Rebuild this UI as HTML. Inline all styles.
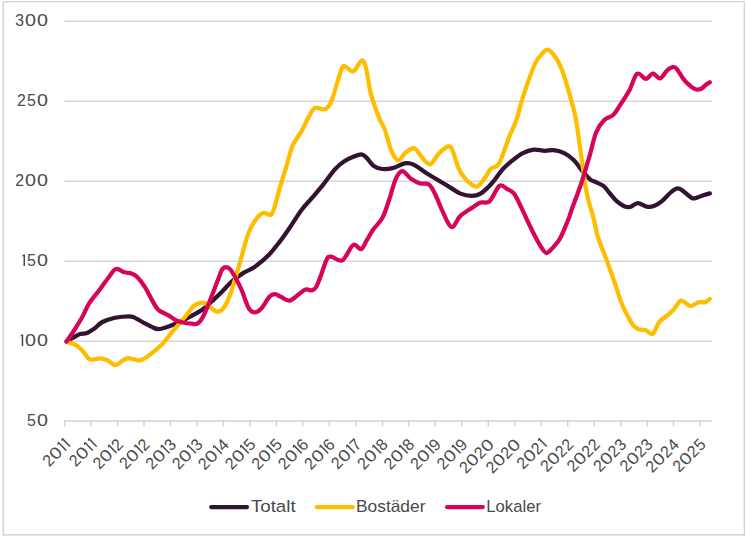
<!DOCTYPE html>
<html><head><meta charset="utf-8"><style>
html,body{margin:0;padding:0;background:#fff;}
body{width:746px;height:538px;position:relative;overflow:hidden;}
svg{position:absolute;left:0;top:0;}
.t{font-family:"Liberation Sans",sans-serif;font-size:16.5px;fill:#4a4a4a;}
</style></head><body>
<svg width="746" height="538" viewBox="0 0 746 538">
<rect x="2" y="1" width="1" height="535" fill="#e8e8e8"/>
<rect x="3" y="1" width="742" height="1" fill="#d4d4d4"/>
<rect x="3" y="2" width="741" height="1" fill="#f0f0f0"/>
<rect x="3" y="1" width="1" height="534" fill="#d4d4d4"/>
<rect x="744" y="1" width="1" height="534" fill="#d4d4d4"/>
<rect x="743" y="2" width="1" height="532" fill="#f2f2f2"/>
<rect x="3" y="534" width="742" height="1" fill="#d4d4d4"/>
<rect x="3" y="535" width="742" height="1" fill="#e4e4e4"/>
<line x1="64.6" y1="21.3" x2="711.8" y2="21.3" stroke="#d6d6d6" stroke-width="1.6"/>
<line x1="64.6" y1="101.3" x2="711.8" y2="101.3" stroke="#d6d6d6" stroke-width="1.6"/>
<line x1="64.6" y1="181.3" x2="711.8" y2="181.3" stroke="#d6d6d6" stroke-width="1.6"/>
<line x1="64.6" y1="261.3" x2="711.8" y2="261.3" stroke="#d6d6d6" stroke-width="1.6"/>
<line x1="64.6" y1="341.3" x2="711.8" y2="341.3" stroke="#d6d6d6" stroke-width="1.6"/>
<line x1="63.9" y1="421.0" x2="711.9" y2="421.0" stroke="#d0d0d0" stroke-width="1.7"/>
<line x1="64.6" y1="421" x2="64.6" y2="426.2" stroke="#d0d0d0" stroke-width="1.4"/>
<line x1="91.1" y1="421" x2="91.1" y2="426.2" stroke="#d0d0d0" stroke-width="1.4"/>
<line x1="117.6" y1="421" x2="117.6" y2="426.2" stroke="#d0d0d0" stroke-width="1.4"/>
<line x1="144.0" y1="421" x2="144.0" y2="426.2" stroke="#d0d0d0" stroke-width="1.4"/>
<line x1="170.5" y1="421" x2="170.5" y2="426.2" stroke="#d0d0d0" stroke-width="1.4"/>
<line x1="197.0" y1="421" x2="197.0" y2="426.2" stroke="#d0d0d0" stroke-width="1.4"/>
<line x1="223.5" y1="421" x2="223.5" y2="426.2" stroke="#d0d0d0" stroke-width="1.4"/>
<line x1="250.0" y1="421" x2="250.0" y2="426.2" stroke="#d0d0d0" stroke-width="1.4"/>
<line x1="276.4" y1="421" x2="276.4" y2="426.2" stroke="#d0d0d0" stroke-width="1.4"/>
<line x1="302.9" y1="421" x2="302.9" y2="426.2" stroke="#d0d0d0" stroke-width="1.4"/>
<line x1="329.4" y1="421" x2="329.4" y2="426.2" stroke="#d0d0d0" stroke-width="1.4"/>
<line x1="355.9" y1="421" x2="355.9" y2="426.2" stroke="#d0d0d0" stroke-width="1.4"/>
<line x1="382.4" y1="421" x2="382.4" y2="426.2" stroke="#d0d0d0" stroke-width="1.4"/>
<line x1="408.8" y1="421" x2="408.8" y2="426.2" stroke="#d0d0d0" stroke-width="1.4"/>
<line x1="435.3" y1="421" x2="435.3" y2="426.2" stroke="#d0d0d0" stroke-width="1.4"/>
<line x1="461.8" y1="421" x2="461.8" y2="426.2" stroke="#d0d0d0" stroke-width="1.4"/>
<line x1="488.3" y1="421" x2="488.3" y2="426.2" stroke="#d0d0d0" stroke-width="1.4"/>
<line x1="514.8" y1="421" x2="514.8" y2="426.2" stroke="#d0d0d0" stroke-width="1.4"/>
<line x1="541.2" y1="421" x2="541.2" y2="426.2" stroke="#d0d0d0" stroke-width="1.4"/>
<line x1="567.7" y1="421" x2="567.7" y2="426.2" stroke="#d0d0d0" stroke-width="1.4"/>
<line x1="594.2" y1="421" x2="594.2" y2="426.2" stroke="#d0d0d0" stroke-width="1.4"/>
<line x1="620.7" y1="421" x2="620.7" y2="426.2" stroke="#d0d0d0" stroke-width="1.4"/>
<line x1="647.2" y1="421" x2="647.2" y2="426.2" stroke="#d0d0d0" stroke-width="1.4"/>
<line x1="673.6" y1="421" x2="673.6" y2="426.2" stroke="#d0d0d0" stroke-width="1.4"/>
<line x1="700.1" y1="421" x2="700.1" y2="426.2" stroke="#d0d0d0" stroke-width="1.4"/>
<text class="t" transform="translate(37.03,26.10) scale(1.192,1)">0</text><text class="t" transform="translate(25.03,26.10) scale(1.192,1)">0</text><text class="t" transform="translate(15.21,26.10) scale(0.946,1)">3</text>
<text class="t" transform="translate(37.03,106.10) scale(1.192,1)">0</text><text class="t" transform="translate(26.96,106.10) scale(0.971,1)">5</text><text class="t" transform="translate(17.01,106.10) scale(0.958,1)">2</text>
<text class="t" transform="translate(37.03,186.10) scale(1.192,1)">0</text><text class="t" transform="translate(25.03,186.10) scale(1.192,1)">0</text><text class="t" transform="translate(15.21,186.10) scale(0.958,1)">2</text>
<text class="t" transform="translate(37.03,266.10) scale(1.192,1)">0</text><text class="t" transform="translate(26.96,266.10) scale(0.971,1)">5</text><path d="M24.25,266.10V254.55" fill="none" stroke="#4a4a4a" stroke-width="1.5"/><path d="M24.25,254.85L22.25,256.15" fill="none" stroke="#4a4a4a" stroke-width="1.1"/>
<text class="t" transform="translate(37.03,346.10) scale(1.192,1)">0</text><text class="t" transform="translate(25.03,346.10) scale(1.192,1)">0</text><path d="M22.45,346.10V334.55" fill="none" stroke="#4a4a4a" stroke-width="1.5"/><path d="M22.45,334.85L20.45,336.15" fill="none" stroke="#4a4a4a" stroke-width="1.1"/>
<text class="t" transform="translate(37.03,426.10) scale(1.192,1)">0</text><text class="t" transform="translate(26.96,426.10) scale(0.971,1)">5</text>
<g transform="translate(70.70,446.0) rotate(-45)"><path d="M-0.75,0.00V-11.55" fill="none" stroke="#4a4a4a" stroke-width="1.5"/><path d="M-0.75,-11.25L-2.75,-9.95" fill="none" stroke="#4a4a4a" stroke-width="1.1"/><path d="M-6.25,0.00V-11.55" fill="none" stroke="#4a4a4a" stroke-width="1.5"/><path d="M-6.25,-11.25L-8.25,-9.95" fill="none" stroke="#4a4a4a" stroke-width="1.1"/><text class="t" transform="translate(-21.17,0.00) scale(1.192,1)">0</text><text class="t" transform="translate(-30.39,0.00) scale(0.958,1)">2</text></g>
<g transform="translate(97.18,446.0) rotate(-45)"><path d="M-0.75,0.00V-11.55" fill="none" stroke="#4a4a4a" stroke-width="1.5"/><path d="M-0.75,-11.25L-2.75,-9.95" fill="none" stroke="#4a4a4a" stroke-width="1.1"/><path d="M-6.25,0.00V-11.55" fill="none" stroke="#4a4a4a" stroke-width="1.5"/><path d="M-6.25,-11.25L-8.25,-9.95" fill="none" stroke="#4a4a4a" stroke-width="1.1"/><text class="t" transform="translate(-21.17,0.00) scale(1.192,1)">0</text><text class="t" transform="translate(-30.39,0.00) scale(0.958,1)">2</text></g>
<g transform="translate(123.66,446.0) rotate(-45)"><text class="t" transform="translate(-7.99,0.00) scale(0.958,1)">2</text><path d="M-9.95,0.00V-11.55" fill="none" stroke="#4a4a4a" stroke-width="1.5"/><path d="M-9.95,-11.25L-11.95,-9.95" fill="none" stroke="#4a4a4a" stroke-width="1.1"/><text class="t" transform="translate(-24.87,0.00) scale(1.192,1)">0</text><text class="t" transform="translate(-34.09,0.00) scale(0.958,1)">2</text></g>
<g transform="translate(150.14,446.0) rotate(-45)"><text class="t" transform="translate(-7.99,0.00) scale(0.958,1)">2</text><path d="M-9.95,0.00V-11.55" fill="none" stroke="#4a4a4a" stroke-width="1.5"/><path d="M-9.95,-11.25L-11.95,-9.95" fill="none" stroke="#4a4a4a" stroke-width="1.1"/><text class="t" transform="translate(-24.87,0.00) scale(1.192,1)">0</text><text class="t" transform="translate(-34.09,0.00) scale(0.958,1)">2</text></g>
<g transform="translate(176.62,446.0) rotate(-45)"><text class="t" transform="translate(-7.99,0.00) scale(0.946,1)">3</text><path d="M-10.15,0.00V-11.55" fill="none" stroke="#4a4a4a" stroke-width="1.5"/><path d="M-10.15,-11.25L-12.15,-9.95" fill="none" stroke="#4a4a4a" stroke-width="1.1"/><text class="t" transform="translate(-25.07,0.00) scale(1.192,1)">0</text><text class="t" transform="translate(-34.29,0.00) scale(0.958,1)">2</text></g>
<g transform="translate(203.10,446.0) rotate(-45)"><text class="t" transform="translate(-7.99,0.00) scale(0.946,1)">3</text><path d="M-10.15,0.00V-11.55" fill="none" stroke="#4a4a4a" stroke-width="1.5"/><path d="M-10.15,-11.25L-12.15,-9.95" fill="none" stroke="#4a4a4a" stroke-width="1.1"/><text class="t" transform="translate(-25.07,0.00) scale(1.192,1)">0</text><text class="t" transform="translate(-34.29,0.00) scale(0.958,1)">2</text></g>
<g transform="translate(229.58,446.0) rotate(-45)"><text class="t" transform="translate(-8.57,0.00) scale(0.986,1)">4</text><path d="M-10.95,0.00V-11.55" fill="none" stroke="#4a4a4a" stroke-width="1.5"/><path d="M-10.95,-11.25L-12.95,-9.95" fill="none" stroke="#4a4a4a" stroke-width="1.1"/><text class="t" transform="translate(-25.87,0.00) scale(1.192,1)">0</text><text class="t" transform="translate(-35.09,0.00) scale(0.958,1)">2</text></g>
<g transform="translate(256.06,446.0) rotate(-45)"><text class="t" transform="translate(-8.24,0.00) scale(0.971,1)">5</text><path d="M-10.35,0.00V-11.55" fill="none" stroke="#4a4a4a" stroke-width="1.5"/><path d="M-10.35,-11.25L-12.35,-9.95" fill="none" stroke="#4a4a4a" stroke-width="1.1"/><text class="t" transform="translate(-25.27,0.00) scale(1.192,1)">0</text><text class="t" transform="translate(-34.49,0.00) scale(0.958,1)">2</text></g>
<g transform="translate(282.54,446.0) rotate(-45)"><text class="t" transform="translate(-8.24,0.00) scale(0.971,1)">5</text><path d="M-10.35,0.00V-11.55" fill="none" stroke="#4a4a4a" stroke-width="1.5"/><path d="M-10.35,-11.25L-12.35,-9.95" fill="none" stroke="#4a4a4a" stroke-width="1.1"/><text class="t" transform="translate(-25.27,0.00) scale(1.192,1)">0</text><text class="t" transform="translate(-34.49,0.00) scale(0.958,1)">2</text></g>
<g transform="translate(309.02,446.0) rotate(-45)"><text class="t" transform="translate(-8.44,0.00) scale(0.998,1)">6</text><path d="M-10.35,0.00V-11.55" fill="none" stroke="#4a4a4a" stroke-width="1.5"/><path d="M-10.35,-11.25L-12.35,-9.95" fill="none" stroke="#4a4a4a" stroke-width="1.1"/><text class="t" transform="translate(-25.27,0.00) scale(1.192,1)">0</text><text class="t" transform="translate(-34.49,0.00) scale(0.958,1)">2</text></g>
<g transform="translate(335.50,446.0) rotate(-45)"><text class="t" transform="translate(-8.44,0.00) scale(0.998,1)">6</text><path d="M-10.35,0.00V-11.55" fill="none" stroke="#4a4a4a" stroke-width="1.5"/><path d="M-10.35,-11.25L-12.35,-9.95" fill="none" stroke="#4a4a4a" stroke-width="1.1"/><text class="t" transform="translate(-25.27,0.00) scale(1.192,1)">0</text><text class="t" transform="translate(-34.49,0.00) scale(0.958,1)">2</text></g>
<g transform="translate(361.98,446.0) rotate(-45)"><text class="t" transform="translate(-8.01,0.00) scale(0.960,1)">7</text><path d="M-9.95,0.00V-11.55" fill="none" stroke="#4a4a4a" stroke-width="1.5"/><path d="M-9.95,-11.25L-11.95,-9.95" fill="none" stroke="#4a4a4a" stroke-width="1.1"/><text class="t" transform="translate(-24.87,0.00) scale(1.192,1)">0</text><text class="t" transform="translate(-34.09,0.00) scale(0.958,1)">2</text></g>
<g transform="translate(388.46,446.0) rotate(-45)"><text class="t" transform="translate(-8.30,0.00) scale(0.982,1)">8</text><path d="M-10.35,0.00V-11.55" fill="none" stroke="#4a4a4a" stroke-width="1.5"/><path d="M-10.35,-11.25L-12.35,-9.95" fill="none" stroke="#4a4a4a" stroke-width="1.1"/><text class="t" transform="translate(-25.27,0.00) scale(1.192,1)">0</text><text class="t" transform="translate(-34.49,0.00) scale(0.958,1)">2</text></g>
<g transform="translate(414.94,446.0) rotate(-45)"><text class="t" transform="translate(-8.30,0.00) scale(0.982,1)">8</text><path d="M-10.35,0.00V-11.55" fill="none" stroke="#4a4a4a" stroke-width="1.5"/><path d="M-10.35,-11.25L-12.35,-9.95" fill="none" stroke="#4a4a4a" stroke-width="1.1"/><text class="t" transform="translate(-25.27,0.00) scale(1.192,1)">0</text><text class="t" transform="translate(-34.49,0.00) scale(0.958,1)">2</text></g>
<g transform="translate(441.42,446.0) rotate(-45)"><text class="t" transform="translate(-8.37,0.00) scale(0.997,1)">9</text><path d="M-10.35,0.00V-11.55" fill="none" stroke="#4a4a4a" stroke-width="1.5"/><path d="M-10.35,-11.25L-12.35,-9.95" fill="none" stroke="#4a4a4a" stroke-width="1.1"/><text class="t" transform="translate(-25.27,0.00) scale(1.192,1)">0</text><text class="t" transform="translate(-34.49,0.00) scale(0.958,1)">2</text></g>
<g transform="translate(467.90,446.0) rotate(-45)"><text class="t" transform="translate(-8.37,0.00) scale(0.997,1)">9</text><path d="M-10.35,0.00V-11.55" fill="none" stroke="#4a4a4a" stroke-width="1.5"/><path d="M-10.35,-11.25L-12.35,-9.95" fill="none" stroke="#4a4a4a" stroke-width="1.1"/><text class="t" transform="translate(-25.27,0.00) scale(1.192,1)">0</text><text class="t" transform="translate(-34.49,0.00) scale(0.958,1)">2</text></g>
<g transform="translate(494.38,446.0) rotate(-45)"><text class="t" transform="translate(-10.17,0.00) scale(1.192,1)">0</text><text class="t" transform="translate(-19.39,0.00) scale(0.958,1)">2</text><text class="t" transform="translate(-30.77,0.00) scale(1.192,1)">0</text><text class="t" transform="translate(-39.99,0.00) scale(0.958,1)">2</text></g>
<g transform="translate(520.86,446.0) rotate(-45)"><text class="t" transform="translate(-10.17,0.00) scale(1.192,1)">0</text><text class="t" transform="translate(-19.39,0.00) scale(0.958,1)">2</text><text class="t" transform="translate(-30.77,0.00) scale(1.192,1)">0</text><text class="t" transform="translate(-39.99,0.00) scale(0.958,1)">2</text></g>
<g transform="translate(547.34,446.0) rotate(-45)"><path d="M-0.75,0.00V-11.55" fill="none" stroke="#4a4a4a" stroke-width="1.5"/><path d="M-0.75,-11.25L-2.75,-9.95" fill="none" stroke="#4a4a4a" stroke-width="1.1"/><text class="t" transform="translate(-13.49,0.00) scale(0.958,1)">2</text><text class="t" transform="translate(-24.87,0.00) scale(1.192,1)">0</text><text class="t" transform="translate(-34.09,0.00) scale(0.958,1)">2</text></g>
<g transform="translate(573.82,446.0) rotate(-45)"><text class="t" transform="translate(-7.99,0.00) scale(0.958,1)">2</text><text class="t" transform="translate(-17.19,0.00) scale(0.958,1)">2</text><text class="t" transform="translate(-28.57,0.00) scale(1.192,1)">0</text><text class="t" transform="translate(-37.79,0.00) scale(0.958,1)">2</text></g>
<g transform="translate(600.30,446.0) rotate(-45)"><text class="t" transform="translate(-7.99,0.00) scale(0.958,1)">2</text><text class="t" transform="translate(-17.19,0.00) scale(0.958,1)">2</text><text class="t" transform="translate(-28.57,0.00) scale(1.192,1)">0</text><text class="t" transform="translate(-37.79,0.00) scale(0.958,1)">2</text></g>
<g transform="translate(626.78,446.0) rotate(-45)"><text class="t" transform="translate(-7.99,0.00) scale(0.946,1)">3</text><text class="t" transform="translate(-17.39,0.00) scale(0.958,1)">2</text><text class="t" transform="translate(-28.77,0.00) scale(1.192,1)">0</text><text class="t" transform="translate(-37.99,0.00) scale(0.958,1)">2</text></g>
<g transform="translate(653.26,446.0) rotate(-45)"><text class="t" transform="translate(-7.99,0.00) scale(0.946,1)">3</text><text class="t" transform="translate(-17.39,0.00) scale(0.958,1)">2</text><text class="t" transform="translate(-28.77,0.00) scale(1.192,1)">0</text><text class="t" transform="translate(-37.99,0.00) scale(0.958,1)">2</text></g>
<g transform="translate(679.74,446.0) rotate(-45)"><text class="t" transform="translate(-8.57,0.00) scale(0.986,1)">4</text><text class="t" transform="translate(-18.19,0.00) scale(0.958,1)">2</text><text class="t" transform="translate(-29.57,0.00) scale(1.192,1)">0</text><text class="t" transform="translate(-38.79,0.00) scale(0.958,1)">2</text></g>
<g transform="translate(706.22,446.0) rotate(-45)"><text class="t" transform="translate(-8.24,0.00) scale(0.971,1)">5</text><text class="t" transform="translate(-17.59,0.00) scale(0.958,1)">2</text><text class="t" transform="translate(-28.97,0.00) scale(1.192,1)">0</text><text class="t" transform="translate(-38.19,0.00) scale(0.958,1)">2</text></g>
<path d="M66.5,341.5 C67.6,340.9 70.9,338.9 73.2,337.7 C75.5,336.4 77.8,334.8 80.1,334.0 C82.4,333.2 84.8,333.9 87.1,333.0 C89.4,332.1 91.5,330.6 94.1,328.8 C96.6,327.0 98.9,323.8 102.4,322.0 C105.9,320.2 110.6,318.8 115.0,317.8 C119.4,316.9 125.7,316.3 128.9,316.3 C132.2,316.3 132.2,316.6 134.5,317.6 C136.8,318.6 140.1,320.8 142.9,322.3 C145.7,323.8 148.8,325.5 151.3,326.6 C153.9,327.8 155.6,329.1 158.2,329.2 C160.8,329.3 163.8,328.1 167.1,327.0 C170.4,325.9 174.2,324.4 178.3,322.5 C182.4,320.6 187.6,318.0 191.7,315.8 C195.8,313.6 199.6,311.6 202.9,309.2 C206.2,306.8 208.8,304.1 211.8,301.3 C214.9,298.5 217.8,296.0 221.2,292.6 C224.6,289.2 228.6,284.3 232.3,281.0 C236.0,277.7 239.8,275.2 243.5,272.9 C247.2,270.5 250.5,269.8 254.6,266.9 C258.7,264.0 263.9,259.9 268.0,255.8 C272.1,251.7 275.5,247.2 279.2,242.4 C282.9,237.6 286.7,232.1 290.4,226.7 C294.1,221.3 297.8,214.9 301.5,210.0 C305.2,205.1 309.0,201.5 312.7,197.1 C316.4,192.7 320.1,188.4 323.8,183.8 C327.5,179.1 331.6,172.9 335.0,169.2 C338.4,165.5 340.9,163.4 343.9,161.4 C346.9,159.4 350.0,158.2 352.9,157.0 C355.8,155.8 359.2,154.2 361.5,154.3 C363.8,154.5 364.7,156.0 366.7,157.9 C368.7,159.8 370.8,163.8 373.4,165.7 C376.0,167.5 378.9,168.6 382.3,169.0 C385.7,169.4 389.8,168.8 393.5,167.9 C397.2,167.0 401.2,164.0 404.6,163.4 C408.0,162.8 409.9,162.9 413.6,164.6 C417.3,166.3 422.9,170.9 427.0,173.5 C431.1,176.1 434.4,178.0 438.1,180.2 C441.8,182.4 445.6,184.7 449.3,186.9 C453.0,189.1 456.7,192.1 460.4,193.6 C464.1,195.1 468.2,195.8 471.6,195.8 C475.0,195.8 477.1,195.7 480.5,193.6 C483.9,191.5 488.0,187.6 491.7,183.5 C495.4,179.4 499.6,172.7 502.9,169.0 C506.2,165.3 508.3,163.8 511.5,161.2 C514.7,158.7 518.6,155.3 522.3,153.4 C526.0,151.5 529.8,150.0 533.5,149.6 C537.2,149.2 541.2,150.7 544.6,150.8 C548.0,150.9 550.2,149.7 553.6,150.1 C557.0,150.5 561.4,151.7 564.7,153.4 C568.1,155.1 570.7,157.1 573.7,160.1 C576.7,163.1 579.9,168.1 582.6,171.3 C585.3,174.5 587.8,177.5 590.0,179.3 C592.2,181.1 593.6,181.1 595.9,182.2 C598.2,183.3 601.4,184.3 603.7,186.1 C606.0,187.9 607.2,190.4 609.5,193.0 C611.8,195.6 614.8,199.5 617.3,201.7 C619.8,203.9 622.1,205.3 624.2,206.2 C626.3,207.1 627.7,207.5 630.0,207.0 C632.3,206.5 635.0,203.2 637.8,203.1 C640.6,203.0 643.8,206.2 646.6,206.6 C649.4,207.0 651.8,206.7 654.4,205.7 C657.0,204.7 659.7,202.9 662.3,200.8 C664.9,198.7 667.7,195.1 670.1,193.0 C672.5,190.9 675.0,189.0 676.9,188.5 C678.8,188.0 679.4,188.4 681.8,190.0 C684.2,191.6 689.1,196.5 691.5,197.8 C693.9,199.1 694.4,198.2 696.4,197.8 C698.4,197.4 701.1,196.0 703.3,195.3 C705.5,194.6 708.7,193.7 709.8,193.4" fill="none" stroke="#321332" stroke-width="4.25" stroke-linejoin="round" stroke-linecap="round"/>
<path d="M66.5,341.5 C68.0,342.1 73.0,343.4 75.6,344.9 C78.2,346.4 79.9,348.0 82.3,350.4 C84.7,352.8 87.1,358.1 90.1,359.4 C93.1,360.7 97.2,358.1 100.2,358.3 C103.2,358.5 105.4,359.4 108.0,360.5 C110.6,361.6 112.6,365.4 115.8,365.0 C119.0,364.6 122.9,359.1 127.0,358.3 C131.1,357.5 136.1,361.1 140.2,360.3 C144.2,359.5 147.6,356.3 151.3,353.5 C155.1,350.7 159.3,347.2 162.7,343.8 C166.1,340.3 167.9,337.1 171.6,332.6 C175.3,328.1 181.3,321.5 185.0,317.0 C188.7,312.5 190.9,308.2 193.9,305.8 C196.9,303.4 200.5,302.5 202.9,302.5 C205.3,302.5 206.1,304.3 208.4,305.8 C210.7,307.3 214.2,311.2 216.7,311.6 C219.2,312.0 221.2,311.0 223.4,308.2 C225.6,305.4 227.5,301.9 230.1,294.8 C232.7,287.7 236.0,275.8 239.0,265.8 C242.0,255.8 245.3,242.0 247.9,234.6 C250.5,227.2 252.1,224.8 254.6,221.2 C257.1,217.6 260.2,214.2 263.0,213.1 C265.8,212.0 269.2,216.4 271.4,214.4 C273.6,212.4 274.8,205.5 276.2,201.0 C277.6,196.5 278.4,193.0 280.0,187.5 C281.6,182.0 283.8,175.0 285.9,168.1 C288.0,161.2 290.0,151.9 292.6,145.8 C295.2,139.7 298.9,136.0 301.5,131.3 C304.1,126.7 306.0,121.8 308.2,117.9 C310.4,114.0 312.3,109.3 314.9,107.9 C317.4,106.5 321.2,109.6 323.5,109.4 C325.8,109.2 326.9,108.5 328.4,106.6 C329.9,104.7 330.4,104.3 332.6,98.0 C334.8,91.7 339.4,74.1 341.6,68.9 C343.8,63.7 344.4,66.6 345.8,66.8 C347.2,67.0 348.6,69.4 350.0,70.1 C351.4,70.8 352.2,72.4 354.2,70.8 C356.2,69.2 359.8,61.0 361.8,60.5 C363.8,60.0 364.6,62.9 366.0,68.0 C367.4,73.1 368.8,84.8 370.2,91.0 C371.6,97.2 372.8,100.2 374.4,105.0 C376.0,109.8 378.3,116.0 380.0,120.0 C381.7,124.0 382.8,124.3 384.7,129.3 C386.6,134.4 389.0,145.1 391.2,150.3 C393.4,155.5 395.8,159.8 398.1,160.3 C400.4,160.8 402.8,155.1 405.1,153.1 C407.4,151.1 410.2,149.0 412.1,148.4 C414.0,147.8 414.7,148.1 416.3,149.6 C417.9,151.1 419.5,154.9 421.8,157.3 C424.1,159.8 427.4,164.9 430.2,164.3 C433.0,163.7 435.6,156.8 438.6,153.8 C441.6,150.8 446.0,147.0 448.3,146.4 C450.6,145.8 450.9,146.9 452.5,150.3 C454.1,153.8 456.2,162.7 458.1,167.1 C460.0,171.5 461.6,174.0 463.7,176.8 C465.8,179.6 468.4,182.2 470.7,183.8 C473.0,185.4 475.2,187.4 477.6,186.4 C480.0,185.4 482.8,180.8 485.0,177.9 C487.2,175.0 488.4,171.2 490.6,169.0 C492.8,166.8 496.2,167.6 498.4,164.6 C500.6,161.6 502.1,156.1 504.0,151.2 C505.9,146.2 507.9,140.2 510.0,134.9 C512.1,129.6 514.7,125.2 516.7,119.3 C518.8,113.3 520.2,105.9 522.3,99.2 C524.3,92.5 526.8,85.2 529.0,79.1 C531.2,73.0 533.5,66.7 535.7,62.4 C537.9,58.1 540.5,55.5 542.4,53.4 C544.3,51.3 545.2,49.6 546.9,49.6 C548.6,49.6 550.5,51.1 552.5,53.4 C554.5,55.7 557.2,59.4 559.2,63.5 C561.2,67.6 562.9,72.4 564.7,78.0 C566.6,83.6 568.4,90.1 570.3,97.0 C572.2,103.9 573.8,107.8 575.9,119.3 C578.0,130.8 580.7,153.1 582.6,165.7 C584.5,178.3 585.2,185.8 587.1,194.7 C589.0,203.6 591.9,212.1 593.8,219.3 C595.6,226.5 596.0,230.9 598.2,237.9 C600.4,244.9 604.1,253.1 607.1,261.3 C610.1,269.5 613.8,280.2 616.1,287.0 C618.5,293.8 619.4,297.6 621.2,302.2 C623.0,306.8 625.0,310.9 627.1,314.9 C629.2,318.9 631.8,323.6 633.9,326.0 C636.0,328.4 637.8,328.9 639.8,329.6 C641.8,330.3 643.8,329.5 645.9,330.2 C648.0,330.9 650.4,335.3 652.7,333.9 C655.0,332.5 656.9,324.9 659.5,321.7 C662.1,318.5 665.7,317.0 668.1,314.9 C670.5,312.8 672.0,311.4 674.0,309.1 C676.0,306.8 678.2,302.4 679.8,301.2 C681.4,299.9 681.9,300.8 683.7,301.6 C685.5,302.4 688.2,306.0 690.6,306.1 C693.0,306.2 696.0,302.9 698.4,302.2 C700.8,301.5 703.3,302.8 705.2,302.2 C707.1,301.6 709.0,299.4 709.8,298.9" fill="none" stroke="#ffbd00" stroke-width="4.25" stroke-linejoin="round" stroke-linecap="round"/>
<path d="M66.5,341.5 C67.7,339.8 70.8,335.6 73.4,331.5 C76.0,327.4 79.7,321.6 82.3,317.0 C84.9,312.4 86.0,308.3 89.0,303.6 C92.0,298.9 96.9,293.5 100.2,289.0 C103.5,284.5 106.5,280.1 109.1,276.8 C111.7,273.5 113.2,269.8 115.8,269.0 C118.4,268.2 122.1,271.6 124.7,272.3 C127.3,273.0 129.3,272.6 131.4,273.4 C133.5,274.1 134.8,274.6 137.0,276.8 C139.2,279.0 142.4,283.1 144.8,286.8 C147.2,290.5 149.3,295.3 151.5,299.1 C153.7,302.9 155.6,307.2 158.2,309.8 C160.8,312.4 164.1,312.9 167.1,314.7 C170.1,316.4 173.5,319.0 176.1,320.3 C178.7,321.6 180.2,321.9 182.8,322.5 C185.4,323.1 189.3,323.5 191.7,323.7 C194.1,323.9 195.4,324.8 197.3,323.7 C199.2,322.6 200.9,320.7 202.9,317.0 C204.9,313.3 207.1,307.5 209.6,301.3 C212.1,295.1 215.8,285.3 217.9,280.0 C220.0,274.7 220.7,271.7 222.1,269.5 C223.5,267.3 224.9,267.0 226.3,267.0 C227.7,267.0 228.8,267.6 230.4,269.5 C232.0,271.4 234.1,275.3 236.0,278.7 C237.9,282.1 239.5,285.0 241.6,289.9 C243.7,294.8 246.5,304.2 248.6,308.0 C250.7,311.8 252.1,312.3 254.2,312.4 C256.3,312.5 258.6,311.3 261.1,308.7 C263.7,306.1 267.2,299.2 269.5,296.8 C271.8,294.4 273.1,294.1 275.1,294.2 C277.1,294.2 278.8,296.1 281.4,297.1 C283.9,298.1 286.5,301.6 290.4,300.4 C294.3,299.2 301.1,291.5 304.6,289.8 C308.1,288.1 309.7,290.9 311.6,290.4 C313.5,289.9 314.6,289.7 316.2,287.0 C317.8,284.3 319.6,278.7 321.4,274.0 C323.2,269.3 325.3,261.9 326.9,259.0 C328.5,256.1 328.5,256.4 331.1,256.6 C333.7,256.8 338.6,262.2 342.3,260.3 C346.0,258.4 350.1,246.8 353.2,245.0 C356.3,243.2 358.9,250.0 361.2,249.2 C363.4,248.4 364.7,243.7 366.7,240.4 C368.7,237.1 370.8,233.0 373.4,229.3 C376.0,225.6 379.7,222.9 382.3,218.1 C384.9,213.3 386.8,206.8 389.0,200.3 C391.2,193.8 393.5,183.9 395.7,179.1 C397.9,174.3 399.8,171.2 402.4,171.2 C405.0,171.2 408.3,177.1 411.3,179.1 C414.3,181.1 417.3,182.6 420.3,183.5 C423.3,184.4 426.6,182.5 429.2,184.6 C431.8,186.7 433.7,191.3 435.9,195.8 C438.1,200.3 440.0,206.2 442.6,211.4 C445.2,216.6 448.5,226.2 451.5,227.0 C454.5,227.8 457.0,219.1 460.4,215.9 C463.8,212.8 468.2,210.3 471.6,208.1 C475.0,205.9 477.5,203.6 480.5,202.5 C483.5,201.4 486.3,204.2 489.5,201.4 C492.7,198.6 496.5,187.9 499.5,185.8 C502.5,183.8 504.9,187.8 507.3,189.1 C509.7,190.4 511.9,191.0 514.0,193.6 C516.1,196.2 517.9,200.4 520.0,204.7 C522.1,209.0 524.2,213.8 526.8,219.3 C529.4,224.8 533.1,232.6 535.7,237.5 C538.3,242.4 540.5,246.4 542.4,249.0 C544.3,251.6 545.0,253.4 546.9,253.0 C548.8,252.6 551.4,249.3 553.6,246.8 C555.8,244.3 557.9,242.5 560.3,238.0 C562.7,233.5 566.2,224.6 568.1,220.0 C570.0,215.4 569.4,216.1 571.4,210.4 C573.4,204.7 577.4,194.7 580.4,185.8 C583.4,176.9 586.7,165.7 589.3,156.8 C591.9,148.0 593.6,138.8 596.0,132.7 C598.4,126.6 600.9,123.4 603.8,120.4 C606.7,117.5 610.6,117.3 613.2,115.0 C615.8,112.7 616.6,110.5 619.3,106.4 C622.0,102.3 626.3,95.9 629.3,90.5 C632.3,85.1 634.3,75.7 637.1,73.8 C639.9,71.9 643.3,79.0 645.9,78.9 C648.5,78.9 650.3,73.6 652.7,73.5 C655.1,73.4 657.8,78.8 660.2,78.3 C662.6,77.8 665.0,72.1 667.1,70.3 C669.2,68.5 671.2,67.5 672.8,67.2 C674.4,66.9 674.7,66.6 676.5,68.6 C678.3,70.6 681.6,76.7 683.7,79.4 C685.8,82.1 687.3,83.4 689.3,85.0 C691.2,86.6 693.4,88.6 695.4,89.2 C697.4,89.8 699.5,89.6 701.3,88.8 C703.1,88.0 704.8,85.6 706.2,84.5 C707.6,83.4 709.2,82.7 709.8,82.3" fill="none" stroke="#d6055a" stroke-width="4.25" stroke-linejoin="round" stroke-linecap="round"/>
<line x1="211.2" y1="507" x2="247.0" y2="507" stroke="#321332" stroke-width="4.25" stroke-linecap="round"/>
<text class="t" transform="translate(250.88,511.6) scale(1.1355,1)">Totalt</text>
<line x1="316.8" y1="507" x2="352.8" y2="507" stroke="#ffbd00" stroke-width="4.25" stroke-linecap="round"/>
<text class="t" transform="translate(355.98,511.6) scale(1.0526,1)">Bostäder</text>
<line x1="447.0" y1="507" x2="482.8" y2="507" stroke="#d6055a" stroke-width="4.25" stroke-linecap="round"/>
<text class="t" transform="translate(486.33,511.6) scale(1.0097,1)">Lokaler</text>
</svg>
</body></html>
